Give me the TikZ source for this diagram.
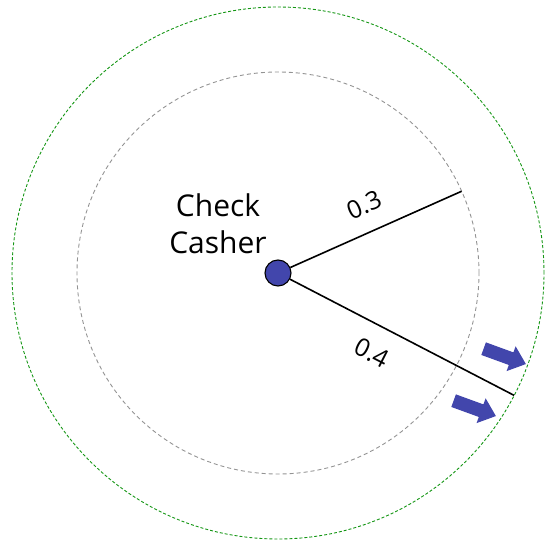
\documentclass[tikz,border=0pt]{standalone}
\usepackage{fontspec}
\setmainfont{Open Sans}
\usetikzlibrary{shapes.arrows,calc}
\definecolor{nodeblue}{RGB}{66,70,172}
\definecolor{ringgreen}{RGB}{20,150,20}
\tikzset{
  ring/.style={dash pattern=on 4pt off 3pt},
  spoke/.style={line width=1.6pt, black},
  push/.style={single arrow, fill=nodeblue, draw=none, minimum height=45pt, inner xsep=0pt, inner ysep=6.5pt, text height=0pt, text depth=0pt, text width=0pt, single arrow head extend=6.5pt, single arrow tip angle=80},
  lbl/.style={font=\fontsize{25}{27}\selectfont, inner sep=1pt},
  hub/.style={circle, fill=nodeblue, draw=black, line width=1.1pt, minimum size=26pt, inner sep=0pt}
}
\begin{document}
\begin{tikzpicture}[x=1pt,y=1pt]
\useasboundingbox (0,0) rectangle (547,544);
\coordinate (c) at (278,271);
\draw[ring, gray!85, line width=0.9pt] (c) circle (201);
\draw[ringgreen, line width=0.9pt, dash pattern=on 3pt off 2pt] (c) circle (266);
\coordinate (e1) at ($(c)+(24:201)$);
\coordinate (e2) at ($(c)+(-27.4:266)$);
\node[hub] (hub) at (c) {};
\draw[spoke] (hub) -- (e1);
\draw[spoke] (hub) -- (e2);
\node[lbl, rotate=24] (l1) at (364,339) {0.3};
\node[lbl, rotate=-27] (l2) at (372,191) {0.4};
\node[font=\fontsize{30}{37}\selectfont, align=center] (name) at (218,320) {Check\\Casher};
\node[push, rotate=-20] (a1) at (501,189) {};
\node[push, rotate=-20] (a2) at (471,137) {};
\end{tikzpicture}
\end{document}
